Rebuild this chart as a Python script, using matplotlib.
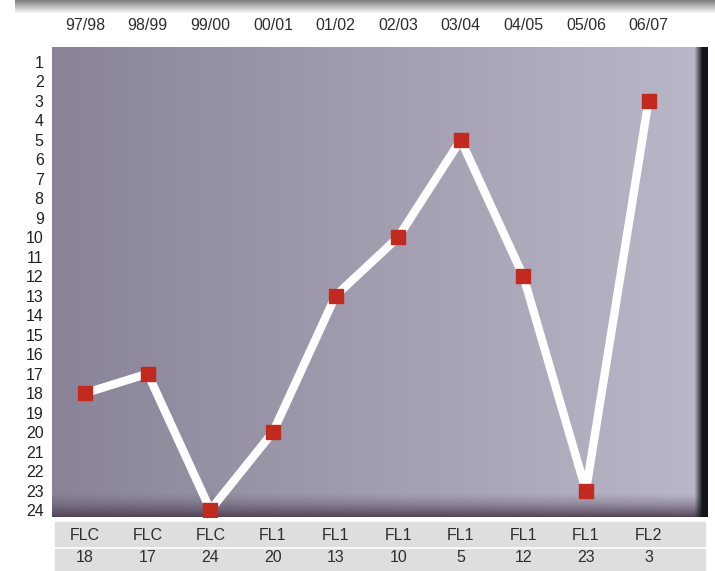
import numpy as np
import matplotlib
matplotlib.use("Agg")
import matplotlib.pyplot as plt
from matplotlib.patches import Rectangle

plt.rcParams['font.family'] = ['Liberation Sans', 'DejaVu Sans']

# season labels along the top
seasons = ['97/98', '98/99', '99/00', '00/01', '01/02',
           '02/03', '03/04', '04/05', '05/06', '06/07']
# league per season and final position
leagues = ['FLC', 'FLC', 'FLC', 'FL1', 'FL1', 'FL1', 'FL1', 'FL1', 'FL1', 'FL2']
positions = [18, 17, 24, 20, 13, 10, 5, 12, 23, 3]
ranks = list(range(1, 25))

W, H = 715, 571
fig = plt.figure(figsize=(W / 100, H / 100), dpi=100)
fig.patch.set_facecolor('white')

# plot box in pixels
left, right, top, bottom = 52, 708, 47, 517
ax = fig.add_axes([left / W, (H - bottom) / H, (right - left) / W, (bottom - top) / H])

x = np.arange(len(seasons))
ax.set_xlim(-0.53, 9.95)
ax.set_ylim(24.36, 0.23)

# background shading of the plot box
bw, bh = right - left, bottom - top
t = np.linspace(0, 1, bw)[None, :, None]
c_left = np.array([138, 131, 151]) / 255
c_right = np.array([186, 184, 200]) / 255
bg = c_left + (c_right - c_left) * t
bg = np.repeat(bg, bh, axis=0)
# darker bottom rim
yy = np.arange(bh)[:, None, None]
shade = np.clip((yy - (bh - 26)) / 26, 0, 1) ** 1.5
bg = bg * (1 - shade) + np.array([80, 64, 84]) / 255 * shade
# dark right edge
xx = np.arange(bw)[None, :, None]
edge = np.clip((xx - (bw - 14)) / 8, 0, 1)
bg = bg * (1 - edge) + np.array([18, 22, 26]) / 255 * edge
ax.imshow(np.clip(bg, 0, 1), extent=(0, 1, 0, 1), transform=ax.transAxes,
          aspect='auto', zorder=0, interpolation='bilinear')

ax.plot(x, positions, color='white', lw=6, solid_joinstyle='round', zorder=2)
ax.plot(x, positions, ls='none', marker='s', ms=10, color='#c32a1f', zorder=3)

for s in ax.spines.values():
    s.set_visible(False)

ax.xaxis.tick_top()
ax.set_xticks(x)
ax.set_xticklabels(seasons, fontsize=11.5, color='#2e2e2e')
ax.tick_params(axis='x', length=0, pad=10)
ax.set_yticks(ranks)
ax.set_yticklabels([str(r) for r in ranks], fontsize=11.5, color='#222222')
ax.tick_params(axis='y', length=0, pad=6)

# top gray band
band = np.linspace(0.5, 1.0, 14)[:, None]
bax = fig.add_axes([15 / W, 1 - 14 / H, 1 - 15 / W, 14 / H])
bax.imshow(np.repeat(band, 10, axis=1), cmap='gray', vmin=0, vmax=1,
           aspect='auto', extent=(0, 1, 0, 1))
bax.axis('off')

# bottom label bands
fig.add_artist(Rectangle((55 / W, (H - 546) / H), (705 - 55) / W, 24 / H,
                         transform=fig.transFigure, color='#dedede', zorder=0))
fig.add_artist(Rectangle((55 / W, 0), (705 - 55) / W, (H - 549) / H,
                         transform=fig.transFigure, color='#dedede', zorder=0))

trans = ax.get_xaxis_transform()
for i in x:
    ax.text(i, (bottom - 536) / (bottom - top), leagues[i], transform=trans,
            ha='center', va='center', fontsize=11.5, color='#2e2e2e')
    ax.text(i, (bottom - 558) / (bottom - top), str(positions[i]), transform=trans,
            ha='center', va='center', fontsize=11.5, color='#2e2e2e')

fig.savefig('out.png', dpi=100)
